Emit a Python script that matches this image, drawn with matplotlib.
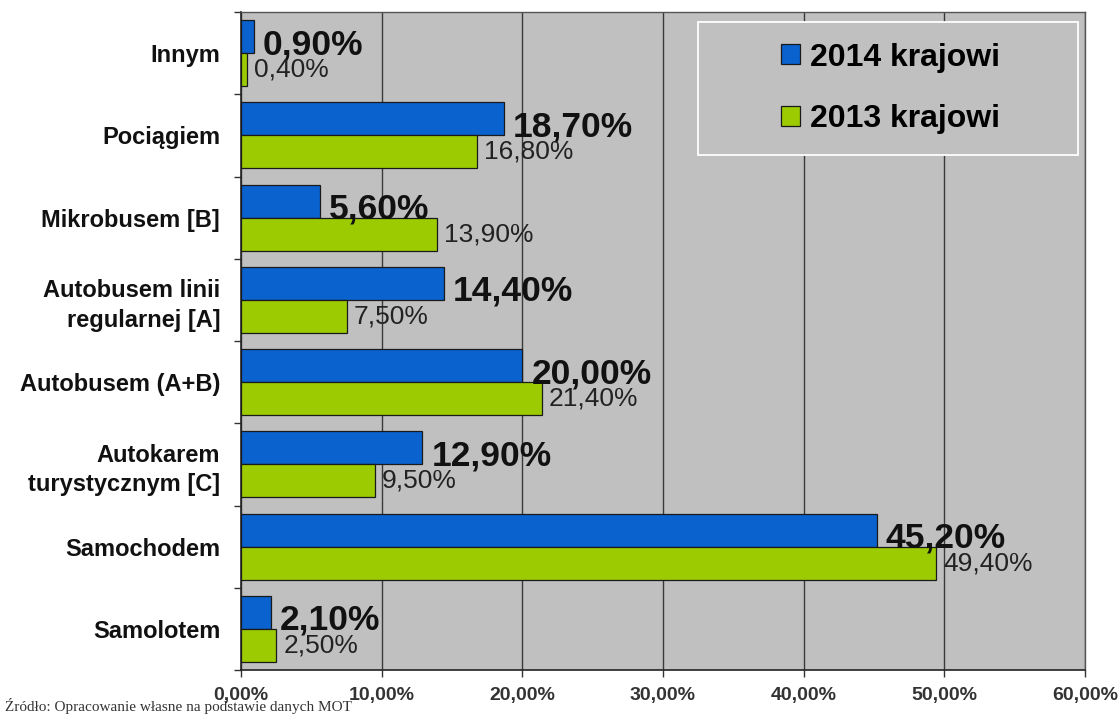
import matplotlib
matplotlib.use("Agg")
import matplotlib.pyplot as plt
from matplotlib.patches import Rectangle
from matplotlib.ticker import FixedLocator, FuncFormatter

plt.rcParams['font.family'] = ['Liberation Sans', 'DejaVu Sans']

categories = [
    "Innym",
    "Pociągiem",
    "Mikrobusem [B]",
    "Autobusem linii\nregularnej [A]",
    "Autobusem (A+B)",
    "Autokarem\nturystycznym [C]",
    "Samochodem",
    "Samolotem",
]
values_2014 = [0.9, 18.7, 5.6, 14.4, 20.0, 12.9, 45.2, 2.1]
values_2013 = [0.4, 16.8, 13.9, 7.5, 21.4, 9.5, 49.4, 2.5]
series_labels = ["2014 krajowi", "2013 krajowi"]
x_ticks = [0, 10, 20, 30, 40, 50, 60]

BLUE = "#0A62CF"
GREEN = "#9BCB00"
PLOT_BG = "#C0C0C0"

fig = plt.figure(figsize=(11.2, 7.15), dpi=100)
ax = fig.add_axes([241 / 1120, 1 - 670 / 715, 844 / 1120, 658 / 715])
ax.set_facecolor(PLOT_BG)

pos = list(range(len(categories)))
h = 0.4
b14 = ax.barh([p - h / 2 for p in pos], values_2014, height=h, color=BLUE,
              edgecolor="#1a1a1a", linewidth=0.9, label=series_labels[0], zorder=3)
b13 = ax.barh([p + h / 2 for p in pos], values_2013, height=h, color=GREEN,
              edgecolor="#1a1a1a", linewidth=0.9, label=series_labels[1], zorder=3)

def pct(v):
    return f"{v:.2f}".replace(".", ",") + "%"

for p, v in zip(pos, values_2014):
    ax.annotate(pct(v), (v, p - h / 2), xytext=(9, -8), textcoords="offset pixels",
                ha="left", va="center", fontsize=25.5, fontweight="bold",
                color="#111111", zorder=5)
for p, v in zip(pos, values_2013):
    ax.annotate(pct(v), (v, p + h / 2), xytext=(7, 0), textcoords="offset pixels",
                ha="left", va="center", fontsize=19, color="#222222", zorder=5)

ax.set_xlim(0, 60)
ax.set_ylim(len(categories) - 0.5, -0.5)

# vertical gridlines
ax.xaxis.set_major_locator(FixedLocator(x_ticks))
ax.xaxis.set_major_formatter(FuncFormatter(lambda x, _: f"{x:.2f}".replace(".", ",") + "%"))
ax.grid(axis="x", color="#3a3a3a", linewidth=1.0, zorder=1)
ax.tick_params(axis="x", direction="out", length=5, width=1, color="#333333",
               pad=7, labelsize=14)
for t in ax.get_xticklabels():
    t.set_fontweight("bold")
    t.set_color("#333333")

# category labels centred, ticks at group boundaries
ax.set_yticks(pos)
ax.set_yticklabels(categories, fontsize=17, fontweight="bold", color="#111111",
                   ha="right", linespacing=1.35)
ax.tick_params(axis="y", which="major", length=0, pad=15)
ax.set_yticks([p - 0.5 for p in pos] + [len(pos) - 0.5], minor=True)
ax.tick_params(axis="y", which="minor", length=5, width=1, color="#333333", direction="out")

for side in ["left", "bottom"]:
    ax.spines[side].set_color("#222222")
    ax.spines[side].set_linewidth(1.2)
for side in ["top", "right"]:
    ax.spines[side].set_color("#555555")
    ax.spines[side].set_linewidth(1.0)

# legend box
box_x0, box_x1 = (698 - 241) / 844, (1078 - 241) / 844
box_y0, box_y1 = (670 - 155) / 658, (670 - 22) / 658
ax.add_patch(Rectangle((box_x0, box_y0), box_x1 - box_x0, box_y1 - box_y0,
                       transform=ax.transAxes, facecolor=PLOT_BG,
                       edgecolor="white", linewidth=1.3, zorder=6))
leg = ax.legend(handles=[b14, b13], loc="center",
                bbox_to_anchor=((box_x0 + box_x1) / 2 + 0.003, (box_y0 + box_y1) / 2),
                frameon=False, prop={"size": 23, "weight": "bold"},
                handlelength=0.58, handleheight=0.58, handletextpad=0.33,
                labelspacing=1.0)
leg.set_zorder(7)

fig.text(5 / 1120, 1 - 711 / 715, "Źródło: Opracowanie własne na podstawie danych MOT",
         family=["Liberation Serif", "DejaVu Serif"], fontsize=11, color="#333333",
         ha="left", va="baseline")

fig.savefig("out.png", dpi=100, facecolor="white")
